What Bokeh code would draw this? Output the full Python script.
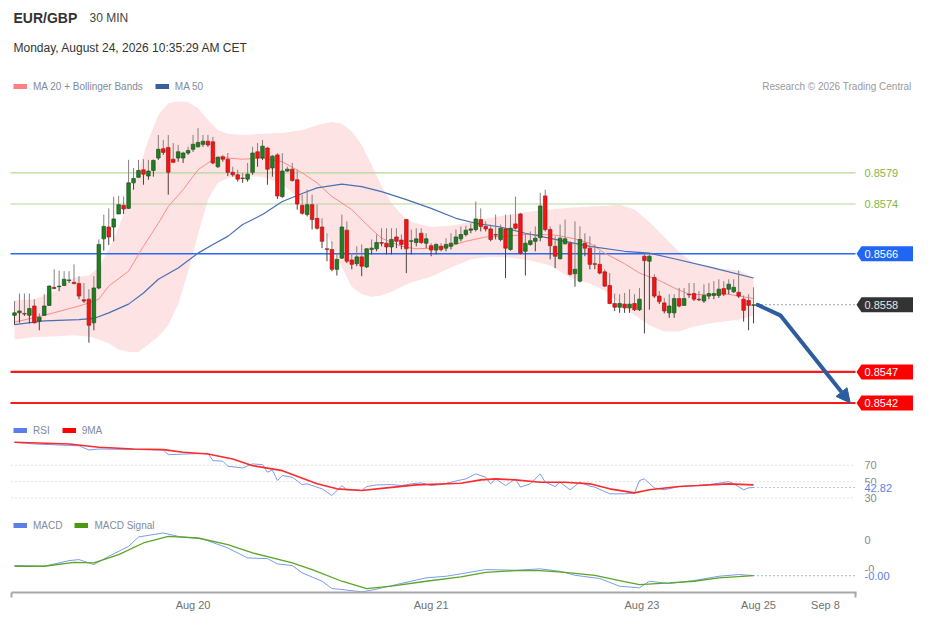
from bokeh.plotting import figure
from bokeh.models import (ColumnDataSource, Range1d, FixedTicker, Legend, LegendItem,
                          Arrow, NormalHead)
from bokeh.core.properties import value
from bokeh.embed import file_html
from bokeh.resources import INLINE

# ---------------- data ----------------
symbol = "EUR/GBP"
interval = "30 MIN"
timestamp = "Monday, August 24, 2026 10:35:29 AM CET"
credit = "Research \u00a9 2026 Trading Central"

opens = [0.85561, 0.85565, 0.85564, 0.85561, 0.85576, 0.85552, 0.85561, 0.85577, 0.85606, 0.85607,
         0.85609, 0.85617, 0.85614, 0.85612, 0.85586, 0.85587, 0.85549, 0.85605, 0.85684, 0.85703,
         0.85703, 0.85724, 0.85738, 0.85733, 0.85774, 0.85783, 0.85795, 0.85785, 0.85794, 0.85814,
         0.85829, 0.85831, 0.85812, 0.85814, 0.85814, 0.85822, 0.85828, 0.85832, 0.85836, 0.85841,
         0.85840, 0.85800, 0.85816, 0.85812, 0.85791, 0.85787, 0.85782, 0.85780, 0.85791, 0.85824,
         0.85814, 0.85830, 0.85798, 0.85819, 0.85752, 0.85793, 0.85796, 0.85779, 0.85738, 0.85723,
         0.85739, 0.85717, 0.85703, 0.85668, 0.85667, 0.85635, 0.85653, 0.85698, 0.85650, 0.85644,
         0.85655, 0.85639, 0.85667, 0.85668, 0.85678, 0.85677, 0.85671, 0.85687, 0.85682, 0.85715,
         0.85680, 0.85678, 0.85693, 0.85677, 0.85673, 0.85666, 0.85672, 0.85669, 0.85672, 0.85676,
         0.85684, 0.85691, 0.85698, 0.85699, 0.85715, 0.85704, 0.85700, 0.85691, 0.85683, 0.85700,
         0.85667, 0.85708, 0.85724, 0.85664, 0.85675, 0.85680, 0.85686, 0.85753, 0.85699, 0.85672,
         0.85652, 0.85676, 0.85677, 0.85628, 0.85616, 0.85677, 0.85669, 0.85644, 0.85643, 0.85631,
         0.85609, 0.85580, 0.85574, 0.85579, 0.85573, 0.85580, 0.85570, 0.85656, 0.85648, 0.85622,
         0.85592, 0.85581, 0.85565, 0.85565, 0.85588, 0.85577, 0.85595, 0.85596, 0.85587, 0.85584,
         0.85592, 0.85593, 0.85593, 0.85604, 0.85603, 0.85599, 0.85598, 0.85587, 0.85585, 0.85577]
highs = [0.85584, 0.85596, 0.85596, 0.85596, 0.85587, 0.85564, 0.85595, 0.85609, 0.85635, 0.85633,
         0.85632, 0.85632, 0.85643, 0.85624, 0.85613, 0.85603, 0.85624, 0.85683, 0.85723, 0.85733,
         0.85752, 0.85753, 0.85752, 0.85811, 0.85798, 0.85811, 0.85812, 0.85811, 0.85812, 0.85851,
         0.85843, 0.85851, 0.85838, 0.85835, 0.85824, 0.85832, 0.85851, 0.85862, 0.85851, 0.85851,
         0.85848, 0.85816, 0.85819, 0.85822, 0.85800, 0.85795, 0.85790, 0.85806, 0.85832, 0.85838,
         0.85843, 0.85832, 0.85819, 0.85822, 0.85822, 0.85800, 0.85806, 0.85795, 0.85755, 0.85763,
         0.85755, 0.85739, 0.85717, 0.85693, 0.85680, 0.85661, 0.85723, 0.85712, 0.85661, 0.85672,
         0.85675, 0.85669, 0.85683, 0.85691, 0.85701, 0.85701, 0.85701, 0.85701, 0.85691, 0.85716,
         0.85699, 0.85701, 0.85701, 0.85693, 0.85677, 0.85677, 0.85677, 0.85685, 0.85693, 0.85699,
         0.85704, 0.85705, 0.85709, 0.85744, 0.85733, 0.85712, 0.85707, 0.85723, 0.85707, 0.85723,
         0.85723, 0.85752, 0.85726, 0.85693, 0.85696, 0.85704, 0.85758, 0.85763, 0.85704, 0.85688,
         0.85707, 0.85715, 0.85680, 0.85712, 0.85704, 0.85693, 0.85688, 0.85675, 0.85664, 0.85635,
         0.85629, 0.85596, 0.85595, 0.85597, 0.85603, 0.85595, 0.85605, 0.85659, 0.85659, 0.85627,
         0.85600, 0.85589, 0.85595, 0.85595, 0.85605, 0.85605, 0.85613, 0.85613, 0.85600, 0.85611,
         0.85613, 0.85616, 0.85619, 0.85616, 0.85619, 0.85619, 0.85633, 0.85593, 0.85595, 0.85606]
lows = [0.85546, 0.85549, 0.85560, 0.85548, 0.85548, 0.85537, 0.85560, 0.85576, 0.85603, 0.85600,
        0.85608, 0.85613, 0.85611, 0.85587, 0.85581, 0.85517, 0.85537, 0.85603, 0.85665, 0.85674,
        0.85680, 0.85724, 0.85724, 0.85732, 0.85763, 0.85782, 0.85771, 0.85779, 0.85784, 0.85811,
        0.85819, 0.85755, 0.85806, 0.85808, 0.85806, 0.85819, 0.85824, 0.85831, 0.85832, 0.85832,
        0.85804, 0.85798, 0.85808, 0.85785, 0.85784, 0.85776, 0.85774, 0.85776, 0.85787, 0.85800,
        0.85811, 0.85771, 0.85784, 0.85748, 0.85750, 0.85792, 0.85776, 0.85731, 0.85723, 0.85720,
        0.85699, 0.85699, 0.85669, 0.85648, 0.85632, 0.85625, 0.85652, 0.85645, 0.85635, 0.85640,
        0.85624, 0.85637, 0.85659, 0.85664, 0.85672, 0.85659, 0.85659, 0.85669, 0.85667, 0.85629,
        0.85659, 0.85672, 0.85676, 0.85669, 0.85656, 0.85659, 0.85664, 0.85664, 0.85667, 0.85675,
        0.85680, 0.85688, 0.85693, 0.85696, 0.85696, 0.85696, 0.85680, 0.85683, 0.85680, 0.85621,
        0.85665, 0.85699, 0.85659, 0.85625, 0.85673, 0.85664, 0.85680, 0.85696, 0.85651, 0.85637,
        0.85651, 0.85675, 0.85625, 0.85607, 0.85614, 0.85656, 0.85635, 0.85635, 0.85627, 0.85607,
        0.85579, 0.85568, 0.85565, 0.85565, 0.85565, 0.85568, 0.85568, 0.85532, 0.85570, 0.85589,
        0.85579, 0.85564, 0.85557, 0.85557, 0.85574, 0.85576, 0.85589, 0.85584, 0.85584, 0.85581,
        0.85587, 0.85587, 0.85589, 0.85592, 0.85595, 0.85597, 0.85589, 0.85551, 0.85537, 0.85548]
closes = [0.85565, 0.85568, 0.85563, 0.85572, 0.85549, 0.85558, 0.85576, 0.85608, 0.85604, 0.85608,
          0.85619, 0.85618, 0.85612, 0.85592, 0.85584, 0.85545, 0.85605, 0.85675, 0.85704, 0.85687,
          0.85716, 0.85739, 0.85732, 0.85774, 0.85781, 0.85794, 0.85788, 0.85793, 0.85810, 0.85828,
          0.85823, 0.85791, 0.85807, 0.85824, 0.85822, 0.85826, 0.85836, 0.85839, 0.85841, 0.85835,
          0.85806, 0.85815, 0.85812, 0.85791, 0.85787, 0.85780, 0.85781, 0.85788, 0.85822, 0.85814,
          0.85833, 0.85796, 0.85817, 0.85753, 0.85793, 0.85796, 0.85778, 0.85740, 0.85725, 0.85739,
          0.85715, 0.85701, 0.85680, 0.85667, 0.85635, 0.85651, 0.85703, 0.85648, 0.85643, 0.85655,
          0.85640, 0.85668, 0.85669, 0.85678, 0.85677, 0.85671, 0.85683, 0.85680, 0.85675, 0.85668,
          0.85681, 0.85684, 0.85678, 0.85684, 0.85666, 0.85675, 0.85667, 0.85675, 0.85677, 0.85687,
          0.85691, 0.85698, 0.85700, 0.85716, 0.85704, 0.85700, 0.85683, 0.85690, 0.85701, 0.85669,
          0.85701, 0.85701, 0.85661, 0.85677, 0.85681, 0.85685, 0.85737, 0.85699, 0.85673, 0.85656,
          0.85685, 0.85684, 0.85627, 0.85635, 0.85683, 0.85669, 0.85643, 0.85643, 0.85629, 0.85608,
          0.85580, 0.85574, 0.85580, 0.85573, 0.85579, 0.85570, 0.85587, 0.85649, 0.85656, 0.85592,
          0.85583, 0.85568, 0.85576, 0.85588, 0.85576, 0.85588, 0.85594, 0.85587, 0.85586, 0.85593,
          0.85596, 0.85596, 0.85603, 0.85595, 0.85611, 0.85606, 0.85592, 0.85569, 0.85577, 0.85578]

ma20_idx = [0, 6, 13, 15, 17, 19, 23, 26, 29, 31, 34, 37, 39, 41, 43, 46, 50, 54, 58, 61, 64, 68,
            71, 74, 78, 81, 84, 88, 91, 95, 99, 103, 106, 109, 113, 116, 119, 123, 126, 130, 133,
            136, 140, 143, 146, 149]
ma20_val = [0.85550, 0.85561, 0.85576, 0.85581, 0.85587, 0.85608, 0.85632, 0.85672, 0.85709, 0.85736,
            0.85763, 0.85795, 0.85806, 0.85816, 0.85814, 0.85812, 0.85814, 0.85808, 0.85790, 0.85774,
            0.85752, 0.85731, 0.85707, 0.85685, 0.85672, 0.85668, 0.85669, 0.85673, 0.85680, 0.85687,
            0.85688, 0.85691, 0.85691, 0.85690, 0.85684, 0.85677, 0.85661, 0.85644, 0.85629, 0.85617,
            0.85605, 0.85595, 0.85594, 0.85596, 0.85592, 0.85588]

band_idx = [0, 4, 8, 12, 15, 17, 19, 21, 23, 25, 27, 29, 31, 33, 35, 37, 39, 41, 43, 46, 50, 54, 58,
            62, 64, 66, 68, 70, 72, 74, 76, 78, 80, 84, 88, 92, 96, 100, 104, 108, 112, 116, 119,
            122, 125, 128, 131, 134, 137, 140, 143, 146, 149]
band_upper = [0.85585, 0.85587, 0.85599, 0.85622, 0.85625, 0.85638, 0.85667, 0.85702, 0.85747,
              0.85795, 0.85843, 0.85883, 0.85902, 0.85905, 0.85904, 0.85894, 0.85875, 0.85859,
              0.85853, 0.85851, 0.85853, 0.85854, 0.85859, 0.85869, 0.85872, 0.85869, 0.85857,
              0.85835, 0.85803, 0.85769, 0.85742, 0.85723, 0.85711, 0.85703, 0.85705, 0.85711,
              0.85718, 0.85723, 0.85728, 0.85731, 0.85734, 0.85736, 0.85737, 0.85739, 0.85731,
              0.85711, 0.85687, 0.85663, 0.85644, 0.85638, 0.85636, 0.85633, 0.85622]
band_lower = [0.85522, 0.85526, 0.85527, 0.85529, 0.85527, 0.85522, 0.85516, 0.85506, 0.85502,
              0.85502, 0.85514, 0.85527, 0.85545, 0.85579, 0.85631, 0.85691, 0.85747, 0.85774,
              0.85782, 0.85785, 0.85784, 0.85772, 0.85744, 0.85707, 0.85675, 0.85638, 0.85607,
              0.85595, 0.85591, 0.85593, 0.85599, 0.85607, 0.85614, 0.85623, 0.85638, 0.85651,
              0.85655, 0.85654, 0.85649, 0.85641, 0.85622, 0.85612, 0.85601, 0.85579, 0.85561,
              0.85545, 0.85535, 0.85535, 0.85543, 0.85548, 0.85551, 0.85554, 0.85561]

ma50_idx = [0, 6, 13, 16, 19, 23, 26, 29, 33, 37, 40, 43, 46, 50, 54, 58, 61, 66, 70, 74, 79, 84,
            89, 93, 98, 103, 109, 116, 123, 128, 133, 140, 149]
ma50_val = [0.85546, 0.85552, 0.85554, 0.85556, 0.85565, 0.85579, 0.85597, 0.85619, 0.85637, 0.85661,
            0.85675, 0.85688, 0.85707, 0.85723, 0.85744, 0.85757, 0.85766, 0.85772, 0.85768, 0.85760,
            0.85747, 0.85733, 0.85717, 0.85709, 0.85703, 0.85693, 0.85683, 0.85672, 0.85664, 0.85661,
            0.85652, 0.85639, 0.85621]

rsi_idx = [0, 4, 13, 15, 17, 30, 31, 39, 40, 42, 43, 46, 48, 50, 51, 52, 53, 54, 56, 58, 59, 62, 64,
           66, 67, 69, 70, 71, 73, 76, 78, 80, 82, 84, 86, 88, 90, 91, 93, 95, 96, 97, 99, 101, 102,
           104, 106, 107, 109, 110, 112, 114, 116, 117, 120, 123, 125, 126, 127, 129, 131, 134, 137,
           140, 142, 144, 145, 147, 148, 149]
rsi_val = [98.0, 95.9, 93.7, 88.6, 89.8, 88.6, 82.9, 84.6, 75.6, 74.9, 68.8, 66.7, 71.6, 70.7, 61.5,
           64.3, 51.3, 57.4, 55.4, 46.4, 47.3, 41.2, 33.0, 45.2, 40.0, 40.0, 39.1, 44.0, 46.0, 46.4,
           45.2, 47.3, 48.5, 45.2, 46.4, 49.3, 52.1, 53.3, 59.4, 55.4, 47.3, 53.3, 45.2, 53.3, 43.3,
           47.3, 59.4, 49.3, 44.0, 49.3, 40.0, 49.3, 44.5, 43.3, 35.1, 35.1, 36.0, 51.3, 53.3, 42.4,
           40.0, 44.0, 45.2, 46.4, 48.1, 50.1, 47.3, 40.0, 42.4, 42.82]
rsi_ma_idx = [0, 11, 17, 24, 30, 34, 39, 44, 48, 54, 61, 65, 70, 75, 81, 90, 94, 97, 101, 106, 111,
              116, 120, 125, 128, 134, 138, 144, 149]
rsi_ma_val = [98.0, 95.9, 91.9, 89.8, 89.0, 85.8, 83.7, 77.7, 69.5, 63.4, 47.3, 41.2, 39.1, 42.4,
              46.0, 48.1, 52.1, 53.3, 52.1, 49.3, 49.3, 47.3, 41.2, 36.3, 40.0, 44.0, 45.2, 47.3, 46.0]
rsi_levels = [70, 50, 30]

# MACD values in units of 1e-4
macd_idx = [0, 6, 11, 13, 15, 16, 19, 23, 25, 30, 33, 38, 43, 47, 51, 53, 56, 58, 62, 64, 66, 70,
            72, 77, 83, 87, 90, 95, 101, 106, 110, 113, 118, 122, 126, 128, 132, 137, 142, 146, 149]
macd_val = [-4.48, -4.60, -3.62, -3.45, -4.02, -4.31, -2.88, -1.16, 0.47, 1.16, 0.57, 0.12, -1.43,
            -3.16, -3.28, -4.19, -4.48, -5.74, -7.19, -8.45, -8.62, -9.02, -8.74, -7.76, -6.60,
            -6.33, -5.91, -5.17, -5.29, -5.05, -5.47, -6.16, -6.72, -8.05, -8.33, -7.19, -7.59,
            -7.07, -6.33, -6.03, -6.21]
signal_idx = [0, 6, 12, 16, 21, 26, 31, 37, 43, 48, 56, 60, 66, 71, 76, 83, 90, 95, 101, 106, 111,
              117, 122, 126, 132, 137, 142, 149]
signal_val = [-4.60, -4.60, -3.91, -4.02, -2.59, -0.57, 0.57, 0.29, -0.86, -2.29, -4.02, -5.17,
              -7.19, -8.45, -8.05, -7.19, -6.43, -5.64, -5.34, -5.34, -5.64, -6.16, -7.07, -7.76,
              -7.47, -7.19, -6.60, -6.21]
macd_ticks = [0.0, -5.0]
macd_tick_labels = ["0", "-0"]

resistance_levels = [0.8579, 0.8574]
pivot_level = 0.8566
support_levels = [0.8547, 0.8542]
forecast_idx = [149.8, 154.4, 168.5]
forecast_price = [0.85578, 0.85561, 0.85420]

date_tick_idx = [36, 84, 126.5, 150, 163.5]
date_tick_labels = ["Aug 20", "Aug 21", "Aug 23", "Aug 25", "Sep 8"]

# ---------------- layout / style ----------------
W, H = 913, 613
BOTTOM = 19
FRAME_H = H - BOTTOM
X0, DX = 14.0, 4.96           # canvas x of first candle, px per candle
PPU = 62400.0                 # px per price unit
P_TOP = 0.8579 + 173 / PPU    # price at top edge of frame
RSI_50_CY, RSI_PX = 482.75, 0.8225
MACD_0_CY, MACD_PX = 541.0, 5.8
FONT = "Liberation Sans"


def xi(cx):
    return (cx - X0) / DX


def yp(cy):
    return P_TOP - cy / PPU


p = figure(width=W, height=H, output_backend="svg", toolbar_location=None,
           x_range=Range1d(xi(0), xi(W)),
           y_range=Range1d(P_TOP - FRAME_H / PPU, P_TOP),
           y_axis_location=None,
           min_border_left=0, min_border_right=0, min_border_top=0, min_border_bottom=BOTTOM)
p.outline_line_color = None
p.background_fill_color = "white"
p.border_fill_color = "white"
p.grid.visible = False
p.extra_y_ranges = {
    "rsi": Range1d(50 - (FRAME_H - RSI_50_CY) / RSI_PX, 50 + RSI_50_CY / RSI_PX),
    "macd": Range1d(-(FRAME_H - MACD_0_CY) / MACD_PX, MACD_0_CY / MACD_PX),
}

LX0, LX1 = xi(10), xi(855)

# Bollinger band
p.varea(x=band_idx, y1=band_lower, y2=band_upper, fill_color="#fde3e3")

# horizontal levels
lvl = ColumnDataSource(dict(
    y=resistance_levels + [pivot_level] + support_levels,
    color=["#b3d797", "#b3d797", "#2a6af5", "#ff1a1a", "#ff1a1a"],
    width=[1.2, 1.2, 1.6, 2.2, 2.2]))
p.segment(x0=LX0, y0="y", x1=LX1, y1="y", line_color="color", line_width="width", source=lvl)

# moving averages
p.line(ma20_idx, ma20_val, line_color="#ff8a8a", line_width=1)
p.line(ma50_idx, ma50_val, line_color="#4a6fb3", line_width=1.2)

# candles
n = len(closes)
up = [c >= o for o, c in zip(opens, closes)]
cs = ColumnDataSource(dict(
    x=list(range(n)),
    top=[max(o, c) for o, c in zip(opens, closes)],
    bottom=[min(o, c) for o, c in zip(opens, closes)],
    high=highs, low=lows,
    fill=["#1f801f" if u else "#ff1010" for u in up],
    edge=["#1c4a1c" if u else "#9a1c1c" for u in up]))
p.segment(x0="x", y0="high", x1="x", y1="top", line_color="#8a7e7e", line_width=1, source=cs)
p.segment(x0="x", y0="bottom", x1="x", y1="low", line_color="#4d3f3f", line_width=1, source=cs)
p.vbar(x="x", width=0.72, top="top", bottom="bottom", fill_color="fill", line_color="edge",
       line_width=0.7, source=cs)

# current price dotted line
last = closes[-1]
p.segment(x0=[xi(757)], y0=[last], x1=[LX1], y1=[last], line_color="#444444",
          line_width=1.2, line_dash="1 3")

# forecast arrow
FC = "#2d5d9f"
p.line(forecast_idx[:2], forecast_price[:2], line_color=FC, line_width=4, line_cap="round")
p.add_layout(Arrow(end=NormalHead(size=14, fill_color=FC, line_color=FC),
                   x_start=forecast_idx[1], y_start=forecast_price[1],
                   x_end=forecast_idx[2], y_end=forecast_price[2],
                   line_color=FC, line_width=4))

# right-side price labels
box_levels = [pivot_level, last] + support_levels
box_colors = ["#1f66f5", "#333333", "#ff0000", "#ff0000"]
hh = 7.5 / PPU
tip, body, right = xi(856), xi(861), xi(W + 10)
p.patches(xs=[[tip, body, right, right, body] for _ in box_levels],
          ys=[[v, v + hh, v + hh, v - hh, v - hh] for v in box_levels],
          fill_color=box_colors, line_color=None)
lab_x = xi(864)
p.text(x=[lab_x] * 2, y=resistance_levels, text=[f"{v:.4f}" for v in resistance_levels],
       text_font=value(FONT), text_font_size="11px", text_color="#86b53f",
       text_baseline="middle")
p.text(x=[lab_x] * 4, y=box_levels, text=[f"{v:.4f}" for v in box_levels],
       text_font=value(FONT), text_font_size="11px",
       text_color=["#ffffff", "#e6e6e6", "#ffffff", "#ffffff"], text_baseline="middle")

# RSI panel
for lv in rsi_levels:
    p.segment(x0=[xi(11)], y0=[lv], x1=[LX1], y1=[lv], line_color="#c4c4c4", line_width=1,
              line_dash="1 3", y_range_name="rsi")
p.line(rsi_idx, rsi_val, line_color="#7b9bee", line_width=1, y_range_name="rsi")
p.line(rsi_ma_idx, rsi_ma_val, line_color="#ff2a2a", line_width=1.6, y_range_name="rsi")
p.segment(x0=[rsi_idx[-1]], y0=[rsi_val[-1]], x1=[LX1], y1=[rsi_val[-1]], line_color="#6b8ce8",
          line_width=1.2, line_dash="1 3", y_range_name="rsi")
p.text(x=[lab_x] * 3, y=rsi_levels, text=[str(v) for v in rsi_levels], text_font=value(FONT),
       text_font_size="11px", text_color="#888888", text_baseline="middle", y_range_name="rsi")
p.text(x=[lab_x], y=[rsi_val[-1]], text=[f"{rsi_val[-1]:.2f}"], text_font=value(FONT),
       text_font_size="11px", text_color="#5b7fe6", text_baseline="middle",
       background_fill_color="white", y_range_name="rsi")

# MACD panel
p.line(macd_idx, macd_val, line_color="#7b9bee", line_width=1, y_range_name="macd")
p.line(signal_idx, signal_val, line_color="#5aa626", line_width=1.3, y_range_name="macd")
p.segment(x0=[macd_idx[-1]], y0=[macd_val[-1]], x1=[LX1], y1=[macd_val[-1]],
          line_color="#6b8ce8", line_width=1.2, line_dash="1 3", y_range_name="macd")
p.text(x=[lab_x] * 2, y=macd_ticks, text=macd_tick_labels, text_font=value(FONT),
       text_font_size="11px", text_color="#888888", text_baseline="middle", y_range_name="macd")
p.text(x=[lab_x], y=[macd_val[-1]], text=[f"{macd_val[-1] * 1e-4:.2f}"], text_font=value(FONT),
       text_font_size="11px", text_color="#5b7fe6", text_baseline="middle",
       background_fill_color="white", y_range_name="macd")


# headings
def heading(cx, cy, s, size, color, bold=False, align="left"):
    p.text(x=[xi(cx)], y=[yp(cy)], text=[s], text_font=value(FONT), text_font_size=f"{size}px",
           text_color=color, text_font_style="bold" if bold else "normal",
           text_align=align, text_baseline="middle")


heading(13, 18, symbol, 14, "#333333", bold=True)
heading(89, 18, interval, 12, "#444444")
heading(13, 48, timestamp, 12, "#333333")
heading(911, 86, credit, 10, "#9a9a9a", align="right")


# legends
def make_legend(entries, cy):
    items = []
    for label, color in entries:
        r = p.line(x=[xi(-200), xi(-190)], y=[P_TOP, P_TOP], line_color=color, line_width=5)
        items.append(LegendItem(label=label, renderers=[r]))
    lg = Legend(items=items, location=(13, FRAME_H - cy - 8), orientation="horizontal",
                label_text_font=FONT, label_text_font_size="10px", label_text_color="#7f8a9c",
                glyph_width=14, glyph_height=6, label_standoff=6, spacing=12, label_width=1,
                padding=0, margin=0, border_line_color=None, background_fill_alpha=0,
                label_height=12)
    p.add_layout(lg)


make_legend([("MA 20 + Bollinger Bands", "#ff8080"), ("MA 50", "#3a5f9f")], 86)
make_legend([("RSI", "#5b7fe6"), ("9MA", "#ff0000")], 430)
make_legend([("MACD", "#5b7fe6"), ("MACD Signal", "#4a9a10")], 525)

# x axis
ax = p.xaxis[0]
ax.ticker = FixedTicker(ticks=date_tick_idx, minor_ticks=[xi(11), xi(855)])
ax.major_label_overrides = {t: s for t, s in zip(date_tick_idx, date_tick_labels)}
ax.bounds = (xi(10.5), xi(855.5))
ax.axis_line_color = "#a8a8a8"
ax.axis_line_width = 2
ax.major_tick_line_color = None
ax.major_tick_in = 0
ax.major_tick_out = 0
ax.minor_tick_line_color = "#a8a8a8"
ax.minor_tick_line_width = 2
ax.minor_tick_in = 0
ax.minor_tick_out = 5
ax.major_label_standoff = 1
ax.major_label_text_font = FONT
ax.major_label_text_font_size = "11px"
ax.major_label_text_color = "#707070"

open("out.html", "w").write(file_html(p, INLINE))
